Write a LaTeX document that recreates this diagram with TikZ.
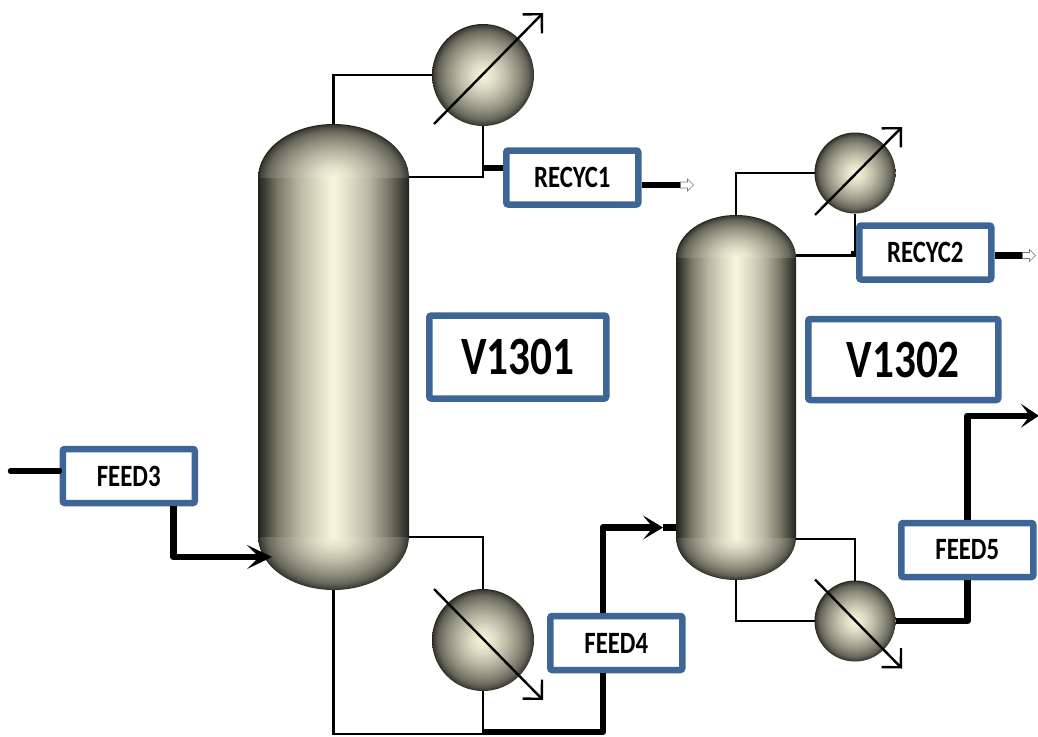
\documentclass[tikz,border=0pt]{standalone}
\usepackage{fontspec}
\setmainfont{Carlito}[FakeStretch=0.8]
\definecolor{tagblue}{RGB}{61,101,150}
\definecolor{tipgray}{RGB}{120,120,120}
\definecolor{steela}{HTML}{F7F7DF}
\definecolor{steelb}{HTML}{DEDEC6}
\definecolor{steelc}{HTML}{B8B8A4}
\definecolor{steeld}{HTML}{8C8C7C}
\definecolor{steele}{HTML}{66665A}
\definecolor{steelf}{HTML}{3C3C34}
\definecolor{steelg}{HTML}{22221C}
\definecolor{steelh}{HTML}{7A7A6B}
\usetikzlibrary{
  arrows.meta,
  positioning
}
\pgfdeclarehorizontalshading{tubeshade}{100bp}{
  color(0bp)=(steelg);
  color(25bp)=(steelg);
  color(27bp)=(steelf);
  color(31.5bp)=(steelh);
  color(38.5bp)=(steelc);
  color(45bp)=(steelb);
  color(50bp)=(steela);
  color(55bp)=(steelb);
  color(61.5bp)=(steelc);
  color(68bp)=(steelh);
  color(73bp)=(steelf);
  color(75bp)=(steelg);
  color(100bp)=(steelg)
}
\pgfdeclareradialshading{ballshade}{\pgfpoint{0bp}{0bp}}{
  color(0bp)=(steela);
  color(6bp)=(steelb);
  color(12bp)=(steelc);
  color(18bp)=(steeld);
  color(22bp)=(steele);
  color(24.5bp)=(steelf);
  color(25bp)=(steelg);
  color(50bp)=(steelg)
}
\tikzset{
  hxbig/.style={circle, shade, shading=ballshade, inner sep=0pt, outer sep=0pt,
    minimum size=102pt},
  hxsmall/.style={circle, shade, shading=ballshade, inner sep=0pt, outer sep=0pt,
    minimum size=81pt},
  tagbox/.style={draw=tagblue, line width=6.5pt, rounded corners=2pt, fill=white,
    minimum width=132pt, minimum height=54pt, inner sep=0pt,
    align=center, font=\fontsize{31}{33}\selectfont\bfseries},
  namebox/.style={tagbox, font=\fontsize{54}{56}\selectfont\bfseries},
  thinpipe/.style={line width=2.2pt, line join=miter},
  hotpipe/.style={line width=6.5pt, line join=round},
  hotarr/.style={hotpipe, -{Stealth[length=25pt, width=24pt, inset=12pt, line width=1pt]}},
  hxarr/.style={line width=2.4pt, -{Straight Barb[length=13.5pt, width=27pt, line width=2.4pt]}},
}
% name, centre x, centre y, width, height, head depth
\newcommand{\drawvessel}[6]{
  \begin{scope}[shift={(#2,#3)}]
    \pgfmathsetmacro{\halfw}{#4/2}
    \pgfmathsetmacro{\halfh}{#5/2}
    \pgfmathsetmacro{\neck}{#5/2-#6}
    \begin{scope}
      \clip (-\halfw,-\halfh) rectangle (\halfw,-\neck);
      \shade[shading=ballshade] (0,-\neck) ellipse [x radius=\halfw, y radius=#6];
    \end{scope}
    \begin{scope}
      \clip (-\halfw,\neck) rectangle (\halfw,\halfh);
      \shade[shading=ballshade] (0,\neck) ellipse [x radius=\halfw, y radius=#6];
    \end{scope}
    \shade[shading=tubeshade] (-\halfw,-\neck) rectangle (\halfw,\neck);
    \node[inner sep=0pt, outer sep=0pt, minimum width=#4pt, minimum height=#5pt] (#1) at (0,0) {};
  \end{scope}
}
% hollow end of an outlet stream
\newcommand{\outtip}[1]{
  \draw[tipgray, fill=white, line width=0.6pt] (#1) ++(0,-3) -- ++(7,0) -- ++(0,-3)
    -- ++(6,6) -- ++(-6,6) -- ++(0,-3) -- ++(-7,0) -- cycle;
}

\begin{document}
\begin{tikzpicture}[x=1pt, y=-1pt]
  \useasboundingbox (0,0) rectangle (1038,736);

  % Columns
  \drawvessel{v1301}{333.5}{357}{151}{466}{54}
  \drawvessel{v1302}{736}{397.5}{120}{365}{43}

  % Exchangers
  \node[hxbig, right=23pt of v1301, yshift=282pt] (hxa) {};
  \node[hxbig, right=23pt of v1301, yshift=-283pt] (hxb) {};
  \node[hxsmall, right=18.5pt of v1302, yshift=224.5pt] (hxc) {};
  \node[hxsmall, right=18.5pt of v1302, yshift=-223.5pt] (hxd) {};

  % Labels
  \node[namebox, minimum width=177pt, minimum height=83pt, right=17pt of v1301] (n1301) {V1301};
  \node[namebox, minimum width=190pt, minimum height=81pt, right=9pt of v1302, yshift=38pt] (n1302) {V1302};
  \node[tagbox, left=60pt of v1301, yshift=-119pt] (feed3) {FEED3};
  \node[tagbox, right=138pt of v1301, yshift=-286pt] (feed4) {FEED4};
  \node[tagbox, right=102pt of v1302, yshift=-152.5pt] (feed5) {FEED5};
  \node[tagbox, right=94pt of v1301, yshift=179.5pt] (recyc1) {RECYC1};
  \node[tagbox, right=60pt of v1302, yshift=145pt] (recyc2) {RECYC2};

  % Thin pipes round V1301
  \draw[thinpipe] (v1301.north) |- (hxa.west);
  \draw[thinpipe] (hxa.south) |- ([yshift=180pt]v1301.east);
  \draw[thinpipe] ([yshift=-180pt]v1301.east) -| (hxb.north);
  \draw[thinpipe] (hxb.south) -- ++(0,43) coordinate (botjoin);
  \draw[thinpipe] (v1301.south) |- (botjoin);

  % Thin pipes round V1302
  \draw[thinpipe] (v1302.north) |- (hxc.west);
  \draw[thinpipe] (hxc.south) |- ([yshift=142pt]v1302.east);
  \draw[thinpipe] ([yshift=-141.5pt]v1302.east) -| (hxd.north);
  \draw[thinpipe] (v1302.south) |- (hxd.west);

  % Arrows through the exchangers
  \foreach \hx/\ax/\ay/\bx/\by in {hxa/-49/49/60/-62, hxb/-49/-51/60/60,
                                   hxc/-40/42/47/-46, hxd/-40/-41.5/47/47.5} {
    \draw[hxarr] ([shift={(\ax,\ay)}]\hx.center) -- ([shift={(\bx,\by)}]\hx.center);
  }

  % Feed streams
  \draw[hotpipe, line width=5.5pt, line cap=round] ([yshift=5pt]feed3.west) -- ++(-49,0);
  \coordinate (ina) at ([xshift=14pt, yshift=-200pt]v1301.west);
  \draw[hotarr] ([xshift=44.5pt]feed3.south) |- (ina);
  \draw[hotpipe] ([yshift=2pt]botjoin) -| ([xshift=-13.5pt]feed4.south);
  \coordinate (inb) at ([xshift=-13pt, yshift=-130pt]v1302.west);
  \draw[hotarr, -{Stealth[length=20pt, width=24pt, inset=10pt, line width=1pt]}] ([xshift=-13.5pt]feed4.north) |- (inb);
  \draw[hotpipe] (inb) -- (v1302.west |- inb);
  \draw[hotpipe] (hxd.east) -| (feed5.south);
  \coordinate (outc) at ([shift={(71.5,-104)}]feed5.north);
  \draw[hotarr, -{Stealth[length=18pt, width=24pt, inset=9pt, line width=1pt]}] (feed5.north) |- (outc);

  % Recycle streams
  \draw[hotpipe] ([yshift=9.5pt]recyc1.west) -- ++(-20,0);
  \draw[hotpipe] ([yshift=-1.5pt]recyc2.west) -- ++(-5,0);
  \draw[hotpipe] ([yshift=-7.5pt]recyc1.east) -- ++(39,0) coordinate (outa);
  \draw[hotpipe] ([yshift=-3pt]recyc2.east) -- ++(28,0) coordinate (outb);
  \outtip{outa}
  \outtip{outb}
\end{tikzpicture}
\end{document}
